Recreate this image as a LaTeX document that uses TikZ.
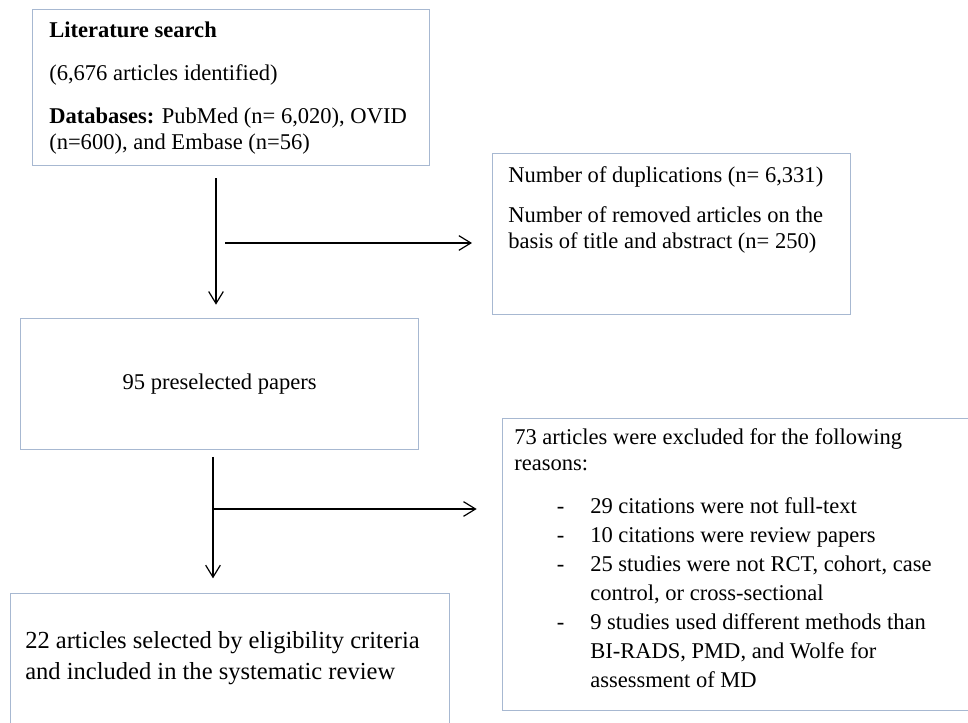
\documentclass[tikz,border=0pt]{standalone}
\usepackage{fontspec}
\setmainfont{Liberation Serif}
\usepackage{xcolor}
\definecolor{BoxLine}{HTML}{A7B8D1}
\usepackage{tikz}
\usetikzlibrary{positioning,arrows.meta,calc}

\begin{document}
\begin{tikzpicture}[x=0.75pt,y=-0.75pt,
        box/.style={draw=BoxLine,line width=0.9pt,rectangle,inner sep=0pt,anchor=north west},
        txt/.style={anchor=north west,inner sep=0pt,align=left,font=\fontsize{16.9}{19.5}\selectfont},
        arr/.style={-{Straight Barb[length=9pt,width=11pt,line width=0.9pt]},line width=0.9pt}]
    \useasboundingbox (0,0) rectangle (968,723);

    % boxes
    \node[box,minimum width=397*0.75pt,minimum height=156*0.75pt] (lit) at (32,9) {};
    \node[box,minimum width=358*0.75pt,minimum height=161*0.75pt] (dup) at (492,153) {};
    \node[box,minimum width=398*0.75pt,minimum height=131*0.75pt,
          font=\fontsize{16.9}{19.5}\selectfont] (pre) at (20,318) {95 preselected papers};
    \node[box,minimum width=480*0.75pt,minimum height=292*0.75pt] (excl) at (502,418) {};
    \node[box,minimum width=439*0.75pt,minimum height=140*0.75pt] (incl) at (10,593) {};

    % texts
    \node[txt] (litT) at (49,21.6) {\textbf{Literature search}\\[12.75pt]
        (6,676 articles identified)\\[12.75pt]
        \textbf{Databases:} PubMed (n= 6,020), OVID\\
        (n=600), and Embase (n=56)};
    \node[txt] (dupT) at (508,166.6) {Number of duplications (n= 6,331)\\[10.5pt]
        Number of removed articles on the\\
        basis of title and abstract (n= 250)};
    \node[txt] (exclT) at (514,428.5) {73 articles were excluded for the following\\
        reasons:\\[13pt]
        \makebox[57pt][l]{\hspace{32pt}-}29 citations were not full-text\\[2.2pt]
        \makebox[57pt][l]{\hspace{32pt}-}10 citations were review papers\\[2.2pt]
        \makebox[57pt][l]{\hspace{32pt}-}25 studies were not RCT, cohort, case\\[2.2pt]
        \hspace*{57pt}control, or cross-sectional\\[2.2pt]
        \makebox[57pt][l]{\hspace{32pt}-}9 studies used different methods than\\[2.2pt]
        \hspace*{57pt}BI-RADS, PMD, and Wolfe for\\[2.2pt]
        \hspace*{57pt}assessment of MD};
    \node[txt,font=\fontsize{18.4}{23.5}\selectfont] (inclT) at (25,631)
        {22 articles selected by eligibility criteria\\
        and included in the systematic review};

    % connectors
    \coordinate (split1) at (216,243);
    \coordinate (split2) at (213,509);
    \draw[arr] ([yshift=-9pt]lit.south -| split1) -- ([yshift=10pt]pre.north -| split1);
    \draw[arr] ([xshift=7pt]split1) -- ([xshift=-15pt]split1 -| dup.west);
    \draw[arr] ([yshift=-5pt]pre.south -| split2) -- ([yshift=11pt]incl.north -| split2);
    \draw[arr] (split2) -- ([xshift=-19pt]split2 -| excl.west);
\end{tikzpicture}
\end{document}
